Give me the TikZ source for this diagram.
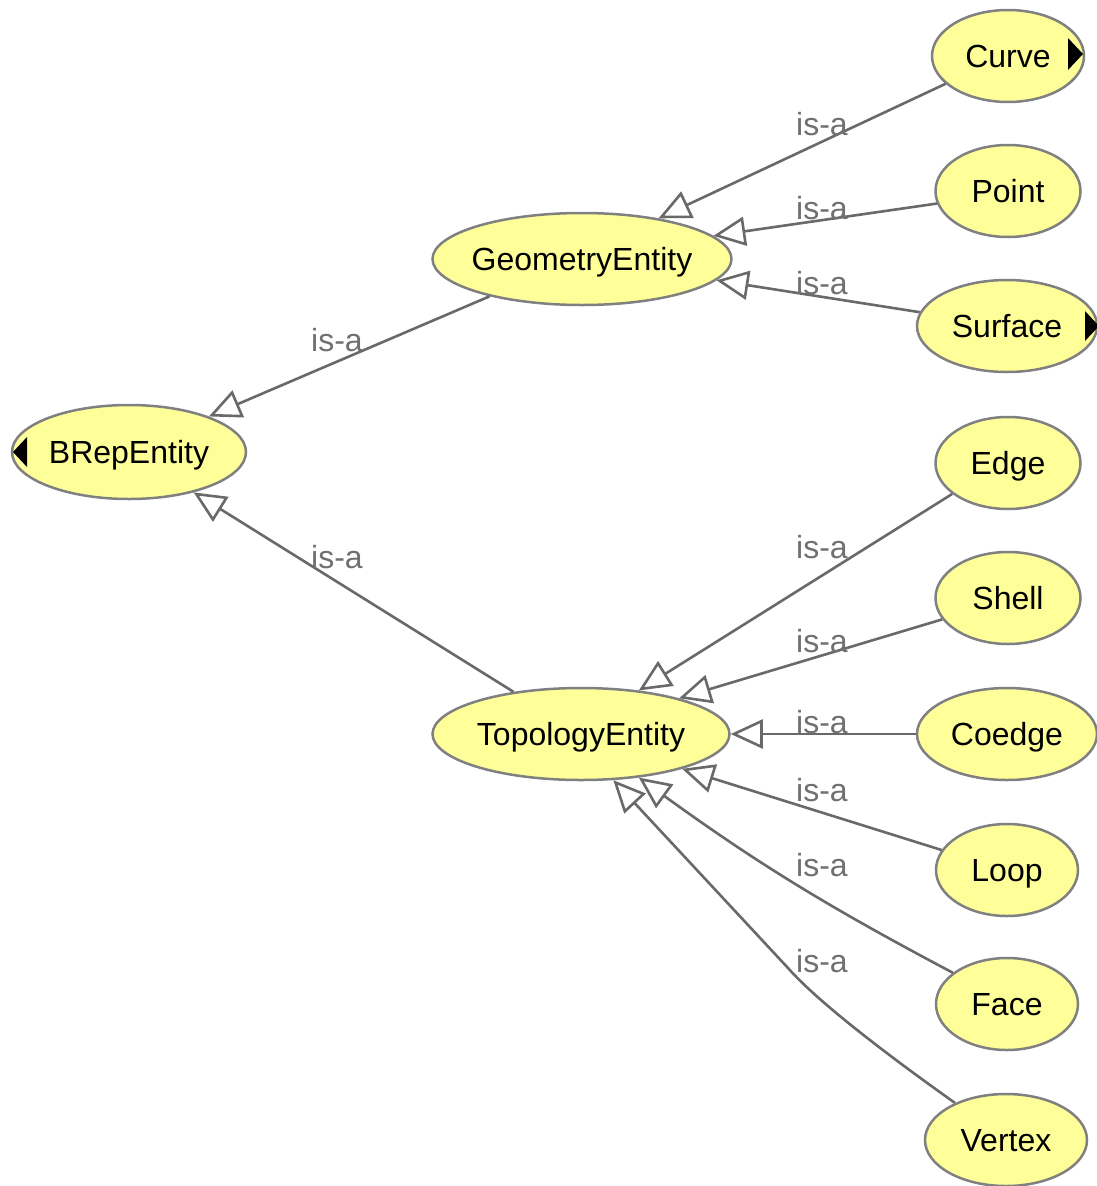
\documentclass[tikz,border=0pt]{standalone}
\usepackage{fontspec}
\setmainfont{Liberation Sans}
\usetikzlibrary{shapes.geometric,arrows.meta}
\definecolor{classfill}{RGB}{255,255,153}
\definecolor{classline}{RGB}{128,128,128}
\definecolor{edgeline}{RGB}{105,105,105}
\definecolor{labelgray}{RGB}{112,112,112}
\begin{document}
\begin{tikzpicture}[x=1pt,y=-1pt,
  cls/.style={ellipse,draw=classline,fill=classfill,line width=2.5pt,inner xsep=-40pt,inner ysep=0pt,
    minimum height=92pt,font=\fontsize{32}{38}\selectfont,text height=23pt,text depth=0pt},
  isa/.style={draw=edgeline,line width=2.6pt,-{Triangle[length=32pt,width=29pt,fill=white]}},
  lbl/.style={text=labelgray,font=\fontsize{32}{38}\selectfont,anchor=base,inner sep=0pt},
  hidden/.style={fill=black}]
\useasboundingbox[fill=white] (0,0) rectangle (1097,1186);

% classes
\node[cls,minimum width=152pt] (curve)   at (1008,56)   {Curve};
\node[cls,minimum width=145pt] (point)   at (1008,191)  {Point};
\node[cls,minimum width=180pt] (surface) at (1007,326)  {Surface};
\node[cls,minimum width=299pt] (geom)    at (582,259)   {GeometryEntity};
\node[cls,minimum width=234pt,minimum height=94pt] (brep) at (129,452) {BRepEntity};
\node[cls,minimum width=145pt] (edge)    at (1008,463)  {Edge};
\node[cls,minimum width=145pt] (shell)   at (1008,598)  {Shell};
\node[cls,minimum width=180pt] (coedge)  at (1007,734)  {Coedge};
\node[cls,minimum width=142pt] (loop)    at (1007,870)  {Loop};
\node[cls,minimum width=142pt] (face)    at (1007,1004) {Face};
\node[cls,minimum width=162pt] (vertex)  at (1006,1140) {Vertex};
\node[cls,minimum width=297pt] (topo)    at (581,734)   {TopologyEntity};

% expand / collapse markers
\fill[hidden] (1068,38) -- (1083,54) -- (1068,70) -- cycle;
\fill[hidden] (1085,311) -- (1099,326) -- (1085,341) -- cycle;
\fill[hidden] (27,437) -- (13,452) -- (27,467) -- cycle;

% subclass relations
\draw[isa] (curve.204) -- (geom.28);
\draw[isa] (point.190) -- (geom.10);
\draw[isa] (surface.171) -- (geom.351);
\draw[isa] (geom.202) -- (brep.24);
\draw[isa] (topo.148) -- (brep.328);
\draw[isa] (edge.209) -- (topo.37);
\draw[isa] (shell.198) -- (topo.20);
\draw[isa] (coedge.180) -- (topo.0);
\draw[isa] (loop.163) -- (topo.341);
\draw[isa] (face.150) to[bend left=4] (topo.323);
\draw[isa] (vertex.144) .. controls (920,1078) and (825,1010) .. (788,968) -- (topo.305);

% relation labels
\node[lbl] (l1)  at (822,135) {is-a};
\node[lbl] (l2)  at (822,219) {is-a};
\node[lbl] (l3)  at (822,294) {is-a};
\node[lbl] (l4)  at (337,351) {is-a};
\node[lbl] (l5)  at (337,568) {is-a};
\node[lbl] (l6)  at (822,558) {is-a};
\node[lbl] (l7)  at (822,652) {is-a};
\node[lbl] (l8)  at (822,733) {is-a};
\node[lbl] (l9)  at (822,801) {is-a};
\node[lbl] (l10) at (822,876) {is-a};
\node[lbl] (l11) at (822,972) {is-a};
\end{tikzpicture}
\end{document}
